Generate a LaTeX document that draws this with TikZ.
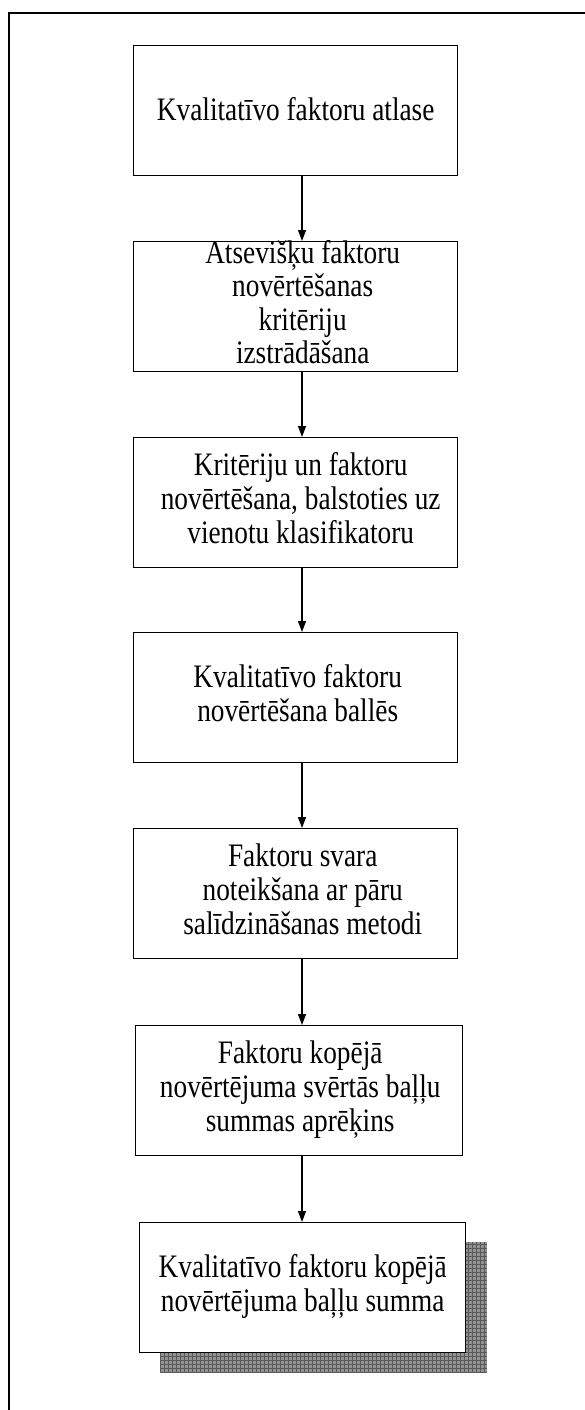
\documentclass[tikz,border=0pt]{standalone}
\usepackage{graphicx}
\usepackage{fontspec}
\setmainfont{Liberation Serif}
\usetikzlibrary{arrows.meta}
% centred lines, set a little taller than wide
\newcommand{\tallstack}[1]{\scalebox{1}[1.2]{\begin{tabular}{@{}c@{}}#1\end{tabular}}}
\begin{document}
\begin{tikzpicture}[x=1pt,y=-1pt,
  stepbox/.style={draw, line width=1.4pt, fill=white, inner sep=0pt, anchor=north west, minimum height=130pt},
  txt/.style={inner sep=0pt, font=\fontsize{27.3}{28}\selectfont},
  flow/.style={line width=1.2pt, -{Triangle[length=11pt,width=8pt]}}]
\useasboundingbox (0,0) rectangle (585,1410);
% outer frame, running past the page on the right and bottom
\begin{scope}
  \clip (0,0) rectangle (585,1410);
  \draw[line width=1.5pt] (9,13) rectangle (620,1440);
\end{scope}
% hatched shadow of the last box
\fill[gray!85] (160,1242) rectangle (487,1373);
\draw[black!65, line width=0.7pt, step=4pt] (160,1242) grid (487,1373);
% boxes
\node[stepbox, minimum width=324pt] (b1) at (133,45) {};
\node[stepbox, minimum width=324pt] (b2) at (133,241) {};
\node[stepbox, minimum width=324pt] (b3) at (133,437) {};
\node[stepbox, minimum width=324pt] (b4) at (133,632) {};
\node[stepbox, minimum width=324pt] (b5) at (133,828) {};
\node[stepbox, minimum width=327pt] (b6) at (135,1025) {};
\node[stepbox, minimum width=326pt] (b7) at (139,1222) {};
% texts
\node[txt] (t1) at ([yshift=-3pt]b1.center) {\tallstack{Kvalitatīvo faktoru atlase}};
\node[txt] (t2) at ([xshift=7pt]b2.center) {\tallstack{Atsevišķu faktoru\\novērtēšanas\\kritēriju\\izstrādāšana}};
\node[txt] (t3) at ([xshift=5pt]b3.center) {\tallstack{Kritēriju un faktoru\\novērtēšana, balstoties uz\\vienotu klasifikatoru}};
\node[txt] (t4) at ([xshift=2pt]b4.center) {\tallstack{Kvalitatīvo faktoru\\novērtēšana ballēs}};
\node[txt] (t5) at ([xshift=7pt]b5.center) {\tallstack{Faktoru svara\\noteikšana ar pāru\\salīdzināšanas metodi}};
\node[txt] (t6) at ([xshift=1pt]b6.center) {\tallstack{Faktoru kopējā\\novērtējuma svērtās baļļu\\summas aprēķins}};
\node[txt] (t7) at (b7.center) {\tallstack{Kvalitatīvo faktoru kopējā\\novērtējuma baļļu summa}};
% connectors
\coordinate (ax) at (302,0);
\draw[flow] (b1.south -| ax) -- (b2.north -| ax);
\draw[flow] (b2.south -| ax) -- (b3.north -| ax);
\draw[flow] (b3.south -| ax) -- (b4.north -| ax);
\draw[flow] (b4.south -| ax) -- (b5.north -| ax);
\draw[flow] (b5.south -| ax) -- (b6.north -| ax);
\draw[flow] (b6.south -| ax) -- (b7.north -| ax);
\end{tikzpicture}
\end{document}
